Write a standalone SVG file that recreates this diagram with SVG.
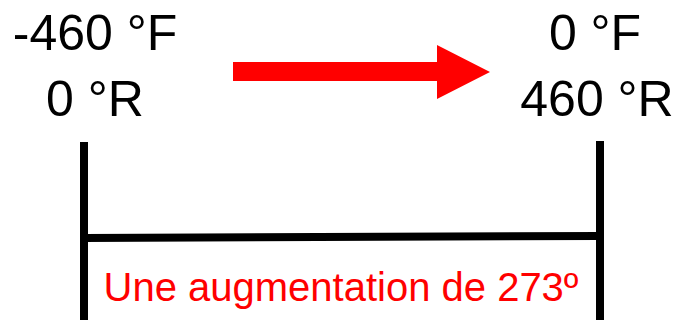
<svg xmlns="http://www.w3.org/2000/svg" width="678" height="320" viewBox="0 0 678 320">
  <style>
    .temp { font-family: "Liberation Sans", Arial, sans-serif; font-size: 50px; fill: #000; text-anchor: middle; }
    .note { font-family: "Liberation Sans", Arial, sans-serif; font-size: 40px; fill: #ff0000; text-anchor: middle; }
    .bar { stroke: #000; stroke-width: 8; fill: none; }
  </style>
  <rect width="678" height="320" fill="#fff"/>

  <g id="start">
    <text class="temp" x="95" y="50">-460 °F</text>
    <text class="temp" x="95" y="116">0 °R</text>
  </g>

  <g id="end">
    <text class="temp" x="595" y="50">0 °F</text>
    <text class="temp" x="597" y="116">460 °R</text>
  </g>

  <g id="connectors">
    <!-- direction arrow -->
    <polygon points="233,62 437,62 437,45 490,72 437,99 437,81 233,81" fill="#ff0000"/>
    <!-- bracket spanning the interval -->
    <line class="bar" x1="84" y1="142" x2="84" y2="320"/>
    <line class="bar" x1="600" y1="141" x2="600" y2="320"/>
    <line class="bar" x1="84" y1="238" x2="600" y2="236"/>
  </g>

  <g id="label">
    <text class="note" x="341" y="301">Une augmentation de 273º</text>
  </g>
</svg>
